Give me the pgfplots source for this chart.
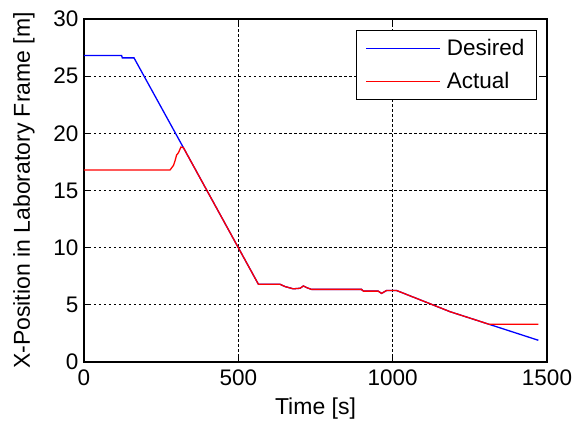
\documentclass[border=0pt]{standalone}
\usepackage{fontspec}
\setmainfont{Liberation Sans}
\usepackage{pgfplots}
\pgfplotsset{compat=1.18}
\begin{document}
\begin{tikzpicture}
\begin{axis}[
  scale only axis,
  width=463pt, height=343pt,
  xmin=0, xmax=1500, ymin=0, ymax=30,
  xtick={0,500,1000,1500},
  ytick={0,5,10,15,20,25,30},
  /pgf/number format/assume math mode=true,
  /pgf/number format/1000 sep={},
  tick label style={font=\fontsize{22.5}{26}\selectfont},
  label style={font=\fontsize{23}{27}\selectfont},
  xlabel={Time [s]},
  ylabel={X-Position in Laboratory Frame [m]},
  xlabel style={yshift=-6pt},
  ylabel style={yshift=12pt},
  xticklabel style={yshift=-4pt},
  yticklabel style={xshift=-2pt},
  tick align=inside,
  major tick length=5pt,
  tick style={black, line width=0.8pt},
  axis line style={line width=1.5pt},
  grid=major,
  major grid style={black, line width=0.9pt, dash pattern=on 2.5pt off 2.5pt},
  legend style={at={(1,1)}, anchor=north east, xshift=-10pt, yshift=-11pt,
    draw=black, line width=1.2pt, fill=white,
    font=\fontsize{22.5}{26}\selectfont,
    inner xsep=9pt, inner ysep=6pt, row sep=9pt, column sep=3pt,
    nodes={inner sep=3pt}},
  legend cell align=left,
  legend image code/.code={\draw[#1] (0pt,0pt) -- (74pt,0pt);},
]
\addplot[blue, line width=1.3pt] coordinates {
(0,26.8) (122,26.8) (124,26.6) (162,26.6) (322,18.75) (565,6.8)
(635,6.8) (651,6.6) (678,6.4) (700,6.45) (711,6.65) (722,6.5) (737,6.35)
(899,6.35) (905,6.2) (953,6.2) (964,6.0) (980,6.25) (1013,6.25)
(1186,4.4) (1312,3.3) (1472,1.9)
};
\addlegendentry{Desired}
\addplot[red, line width=1.3pt] coordinates {
(0,16.8) (279,16.8) (290,17.2) (295,17.6) (300,18.1) (306,18.3) (314,18.8) (322,18.75) (565,6.8)
(635,6.8) (651,6.6) (678,6.4) (700,6.45) (711,6.65) (722,6.5) (737,6.35)
(899,6.35) (905,6.2) (953,6.2) (964,6.0) (980,6.25) (1013,6.25)
(1186,4.4) (1312,3.3) (1472,3.3)
};
\addlegendentry{Actual}
\end{axis}
\pgfresetboundingbox
\path (-84pt,-63pt) rectangle (490pt,362pt);
\end{tikzpicture}
\end{document}
